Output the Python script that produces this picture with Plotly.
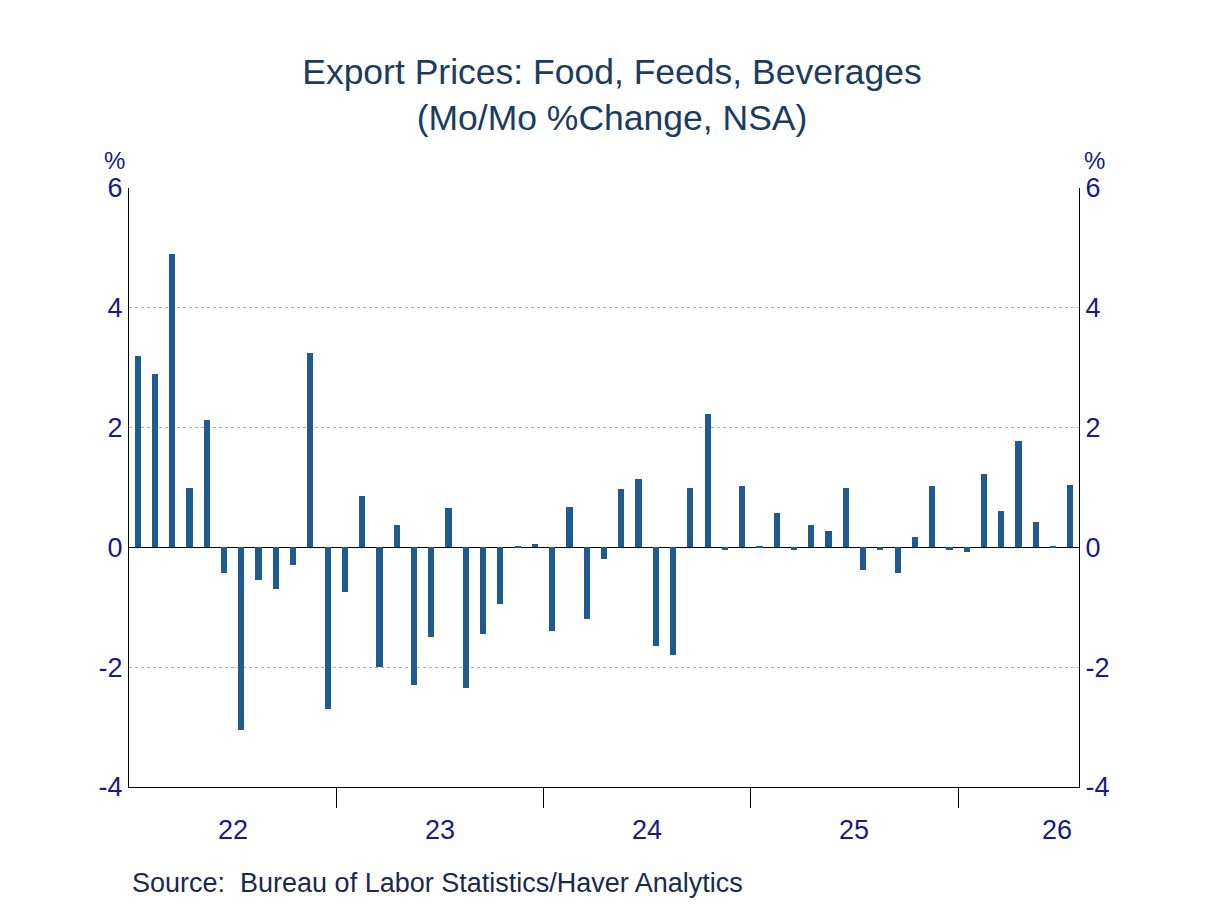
import plotly.graph_objects as go

values = [3.2, 2.9, 4.9, 1.0, 2.13, -0.42, -3.05, -0.55, -0.7, -0.3, 3.25,
          -2.7, -0.75, 0.85, -2.0, 0.38, -2.3, -1.5, 0.65, -2.35, -1.45, -0.95,
          0.02, 0.05, -1.4, 0.68, -1.2, -0.2, 0.98, 1.15, -1.65, -1.8, 1.0,
          2.22, -0.05, 1.02, 0.02, 0.58, -0.05, 0.37, 0.28, 1.0, -0.38, -0.05,
          -0.42, 0.18, 1.03, -0.05, -0.08, 1.22, 0.6, 1.78, 0.43, 0.02, 1.05]
year_labels = ["22", "23", "24", "25", "26"]
year_label_pos = [5.5, 17.5, 29.5, 41.5, 53.2]
year_bounds = [11.5, 23.5, 35.5, 47.5]
yticks = [-4, -2, 0, 2, 4, 6]
ytext = ["-4", "-2", "0", "2", "4", "6"]

x = list(range(len(values)))
navy = "#1a1a80"
fig = go.Figure(go.Bar(x=x, y=values, width=0.36, marker_color="#1f5b8e",
                       marker_line_width=0))
fig.add_trace(go.Scatter(x=[0], y=[0], yaxis="y2", mode="markers",
                         marker_opacity=0, showlegend=False, hoverinfo="skip"))
fig.update_layout(
    width=1208, height=906, paper_bgcolor="white", plot_bgcolor="white",
    margin=dict(l=121, r=137, t=180, b=127, autoexpand=False), showlegend=False, bargap=0,
    font=dict(family="Arial, Liberation Sans", color=navy),
    title=dict(text="Export Prices: Food, Feeds, Beverages<br>(Mo/Mo %Change, NSA)",
               x=0.5, xanchor="center", y=0.916, yanchor="top",
               font=dict(size=35.5, color="#1c3c5e")),
    xaxis=dict(range=[-0.5, 54.5], tickvals=year_bounds, ticks="outside",
               ticklen=20, tickcolor="black", showticklabels=False, automargin=False,
               showgrid=False, showline=True, linecolor="black", zeroline=False),
    yaxis=dict(range=[-4, 6], tickvals=yticks, ticktext=ytext, tickfont=dict(size=27, color=navy),
               showgrid=True, gridcolor="#b0b0b0", griddash="dot", automargin=False,
               zeroline=True, zerolinecolor="black", zerolinewidth=1,
               showline=True, linecolor="black", ticks=""),
    yaxis2=dict(range=[-4, 6], tickvals=yticks, ticktext=ytext, overlaying="y", side="right",
                tickfont=dict(size=27, color=navy), showgrid=False, zeroline=False,
                automargin=False, showline=True, linecolor="black", ticks=""),
)
for lab, pos in zip(year_labels, year_label_pos):
    fig.add_annotation(x=pos, y=0, yref="paper", yshift=-26, text=lab,
                       showarrow=False, yanchor="top", font=dict(size=27, color=navy))
fig.add_annotation(x=0, y=1, xref="paper", yref="paper", xshift=-27, yshift=12,
                   text="%", showarrow=False, yanchor="bottom", font=dict(size=24, color=navy))
fig.add_annotation(x=1, y=1, xref="paper", yref="paper", xshift=28, yshift=12,
                   text="%", showarrow=False, yanchor="bottom", font=dict(size=24, color=navy))
fig.add_annotation(x=0.001, y=-0.132, xref="paper", yref="paper",
                   text="Source:  Bureau of Labor Statistics/Haver Analytics",
                   showarrow=False, xanchor="left", yanchor="top",
                   font=dict(size=27, color="#1a2a4a"))
fig.write_html("out.html")
